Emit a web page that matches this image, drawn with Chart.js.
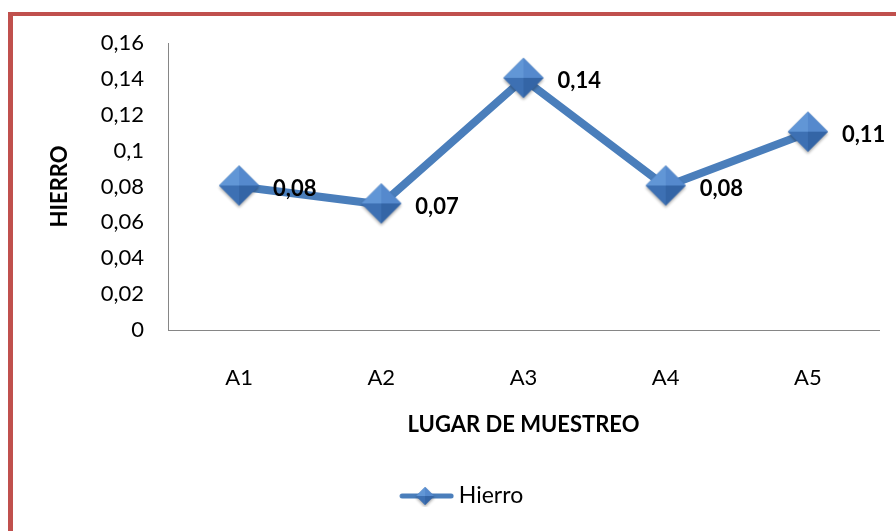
<!DOCTYPE html>
<html>
<head>
<meta charset="utf-8">
<script src="https://cdn.jsdelivr.net/npm/chart.js@4"></script>
<style>
  html, body { margin: 0; padding: 0; background: #fff; overflow: hidden; }
  #wrap { position: relative; width: 896px; height: 531px; }
  #frame {
    position: absolute; left: 8px; top: 12px; width: 2000px; height: 2000px;
    border-left: 5px solid #c0504d; border-top: 4px solid #c0504d;
    pointer-events: none;
  }
</style>
</head>
<body>
<div id="wrap">
  <canvas id="chart" width="896" height="531"></canvas>
  <div id="frame"></div>
</div>
<script>
// Data
const categories = ['A1', 'A2', 'A3', 'A4', 'A5']
const hierroValues = [0.08, 0.07, 0.14, 0.08, 0.11]
const seriesName = 'Hierro'
const yTicks = { min: 0, max: 0.16, step: 0.02 }

const LINE_COLOR = '#4a7ebb'

// decimal comma like the original sheet
const fmt = v => String(+v.toFixed(2)).replace('.', ',')

// Faceted diamond marker (Excel 2007 look)
function makeDiamond(half) {
    const pad = 3
    const c = document.createElement('canvas')
    c.width = half * 2 + pad * 2
    c.height = half * 2 + pad * 2 + 2
    const ctx = c.getContext('2d')
    const cx = c.width / 2, cy = half + pad
    const L = [cx - half, cy], T = [cx, cy - half], R = [cx + half, cy], B = [cx, cy + half], C = [cx, cy]

    ctx.save()
    ctx.shadowColor = 'rgba(0,0,0,0.35)'
    ctx.shadowBlur = 3
    ctx.shadowOffsetY = 2
    ctx.beginPath()
    ctx.moveTo(...L); ctx.lineTo(...T); ctx.lineTo(...R); ctx.lineTo(...B); ctx.closePath()
    ctx.fillStyle = '#3f73b6'
    ctx.fill()
    ctx.restore()

    const facets = [
        [L, T, '#6196d6'],
        [T, R, '#5589cd'],
        [R, B, '#3465a6'],
        [B, L, '#3d70b3']
    ]
    facets.forEach(([a, b, col]) => {
        ctx.beginPath()
        ctx.moveTo(...a); ctx.lineTo(...b); ctx.lineTo(...C); ctx.closePath()
        ctx.fillStyle = col
        ctx.fill()
    })
    return c
}

// Legend symbol: line with small diamond. The box is 91.5 wide and the
// canvas hangs past it on the right so the text sits close like in Excel.
function makeLegendIcon() {
    const c = document.createElement('canvas')
    c.width = 105
    c.height = 22
    const ctx = c.getContext('2d')
    const y = 11
    ctx.strokeStyle = LINE_COLOR
    ctx.lineWidth = 5
    ctx.lineCap = 'round'
    ctx.beginPath()
    ctx.moveTo(53, y)
    ctx.lineTo(102, y)
    ctx.stroke()
    const d = makeDiamond(9)
    ctx.drawImage(d, 76 - d.width / 2, y - (d.height - 2) / 2)
    return c
}

const marker = makeDiamond(20)
const legendIcon = makeLegendIcon()

// Data labels to the right of each point
const valueLabels = {
    id: 'valueLabels',
    afterDatasetsDraw(chart) {
        const ctx = chart.ctx
        const meta = chart.getDatasetMeta(0)
        ctx.save()
        ctx.font = 'bold 22px Lato'
        ctx.fillStyle = '#000'
        ctx.textAlign = 'left'
        ctx.textBaseline = 'middle'
        meta.data.forEach((pt, i) => {
            ctx.fillText(fmt(hierroValues[i]), pt.x + 34, pt.y + 2)
        })
        ctx.restore()
    }
}

new Chart(document.getElementById('chart'), {
    type: 'line',
    data: {
        labels: categories,
        datasets: [{
            label: seriesName,
            data: hierroValues,
            borderColor: LINE_COLOR,
            backgroundColor: LINE_COLOR,
            borderWidth: 8,
            tension: 0,
            pointStyle: marker,
            pointRadius: 20,
            pointHoverRadius: 20
        }]
    },
    options: {
        responsive: false,
        animation: false,
        devicePixelRatio: 1,
        layout: { autoPadding: false, padding: { top: 43, right: 17, bottom: 13.5, left: 0 } },
        plugins: {
            tooltip: { enabled: false },
            legend: {
                position: 'bottom',
                labels: {
                    usePointStyle: true,
                    pointStyleWidth: 91.5,
                    padding: 10,
                    font: { family: 'Lato', size: 23 },
                    color: '#262626',
                    generateLabels: () => [{
                        text: seriesName,
                        pointStyle: legendIcon,
                        fillStyle: LINE_COLOR,
                        strokeStyle: LINE_COLOR,
                        lineWidth: 0,
                        hidden: false,
                        datasetIndex: 0
                    }]
                }
            }
        },
        scales: {
            x: {
                offset: true,
                grid: { display: false, drawTicks: false },
                border: { display: true, color: '#868686', width: 1 },
                ticks: { padding: 35, color: '#000', font: { family: 'Lato', size: 22 } },
                title: {
                    display: true,
                    text: 'LUGAR DE MUESTREO',
                    color: '#000',
                    font: { family: 'Lato', size: 22, weight: 'bold' },
                    padding: { top: 0, bottom: 36 }
                },
                afterFit: scale => { scale.height = 144.5 }
            },
            y: {
                min: yTicks.min,
                max: yTicks.max,
                grid: { display: false, drawTicks: false },
                border: { display: true, color: '#868686', width: 1 },
                ticks: {
                    stepSize: yTicks.step,
                    padding: 24,
                    color: '#000',
                    font: { family: 'Lato', size: 22 },
                    callback: v => fmt(v)
                },
                title: {
                    display: true,
                    text: 'HIERRO',
                    color: '#000',
                    font: { family: 'Lato', size: 22, weight: 'bold' },
                    padding: { top: 47, bottom: 0 }
                },
                afterFit: scale => { scale.width = 168 }
            }
        }
    },
    plugins: [valueLabels]
})
</script>
</body>
</html>
